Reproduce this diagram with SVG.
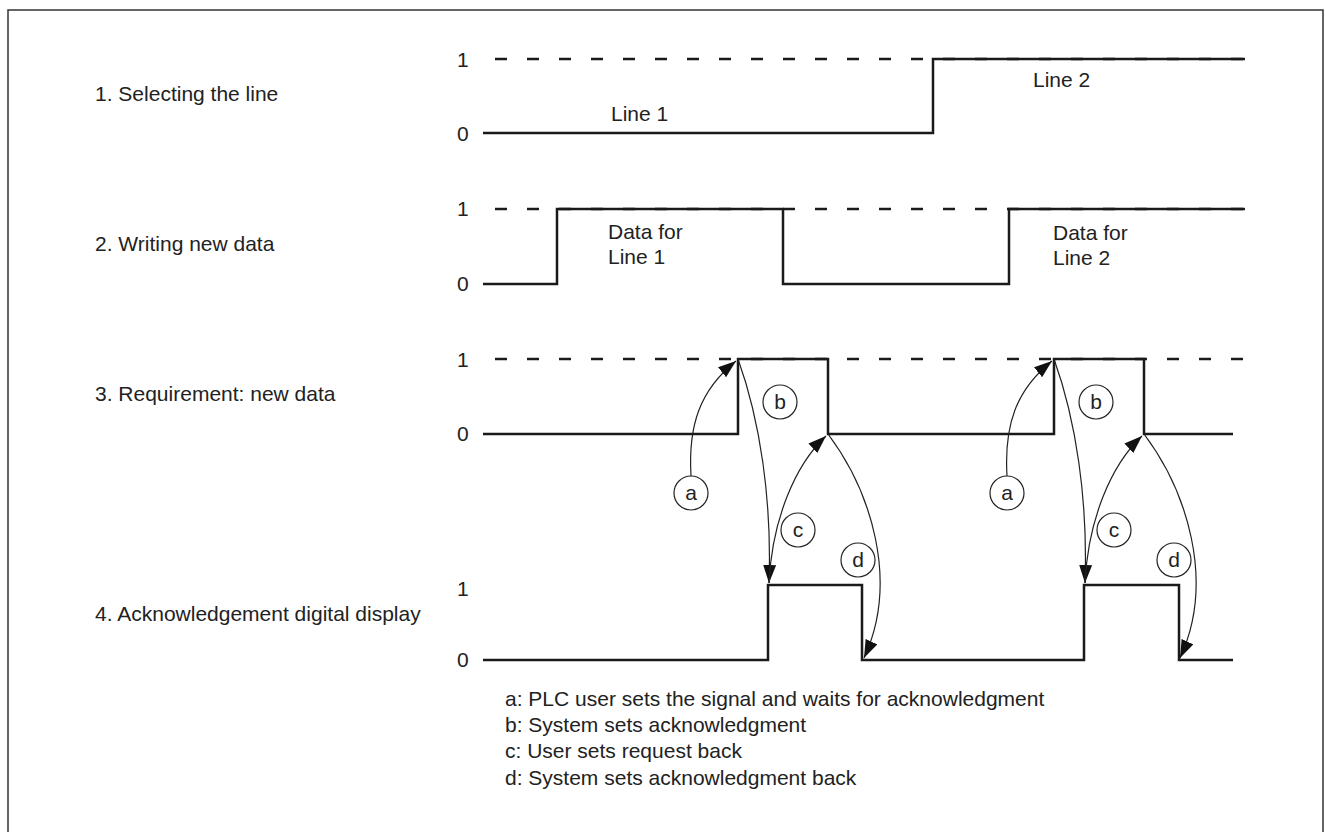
<svg xmlns="http://www.w3.org/2000/svg" width="1326" height="832" viewBox="0 0 1326 832">
  <style>
    text { font-family: "Liberation Sans", Arial, sans-serif; font-size: 21px; fill: #222; }
    .wave { fill: none; stroke: #1a1a1a; stroke-width: 2.5; stroke-linejoin: miter; }
    .dash { fill: none; stroke: #1a1a1a; stroke-width: 2.5; stroke-dasharray: 12 20; }
    .curve { fill: none; stroke: #222; stroke-width: 1.2; }
    .circ { fill: #fff; stroke: #222; stroke-width: 1.2; }
    .ctext { text-anchor: middle; }
  </style>
  <defs>
    <marker id="ah" markerUnits="userSpaceOnUse" markerWidth="19" markerHeight="14" refX="18" refY="6.5" orient="auto">
      <path d="M0,0 L18,6.5 L0,13 Z" fill="#111"/>
    </marker>
  </defs>
  <rect x="0" y="0" width="1326" height="832" fill="#fff"/>
  <rect x="8" y="10" width="1315" height="840" fill="none" stroke="#333" stroke-width="1.5"/>

  <g id="row-labels">
    <text x="95" y="101">1. Selecting the line</text>
    <text x="95" y="251">2. Writing new data</text>
    <text x="95" y="401">3. Requirement: new data</text>
    <text x="95" y="621">4. Acknowledgement digital display</text>
  </g>

  <g id="ticks">
    <text x="457" y="67">1</text>
    <text x="457" y="141">0</text>
    <text x="457" y="216">1</text>
    <text x="457" y="291">0</text>
    <text x="457" y="367">1</text>
    <text x="457" y="441">0</text>
    <text x="457" y="596">1</text>
    <text x="457" y="667">0</text>
  </g>

  <g id="signal-1">
    <line class="dash" x1="495" y1="59" x2="1245" y2="59"/>
    <path class="wave" d="M483,133 H933 V59 H1245"/>
    <text x="611" y="121">Line 1</text>
    <text x="1033" y="87">Line 2</text>
  </g>

  <g id="signal-2">
    <line class="dash" x1="495" y1="209" x2="1245" y2="209"/>
    <path class="wave" d="M483,284 H557 V209 H783 V284 H1009 V209 H1245"/>
    <text x="608" y="239">Data for</text>
    <text x="608" y="264">Line 1</text>
    <text x="1053" y="240">Data for</text>
    <text x="1053" y="265">Line 2</text>
  </g>

  <g id="signal-3">
    <line class="dash" x1="495" y1="359" x2="1245" y2="359"/>
    <path class="wave" d="M483,434 H738 V359 H828 V434 H1054 V359 H1144 V434 H1233"/>
  </g>

  <g id="signal-4">
    <path class="wave" d="M483,660 H768 V585 H862 V660 H1084 V585 H1179 V660 H1233"/>
  </g>

  <g id="connectors">
    <path class="curve" marker-end="url(#ah)" d="M691,476 C688,425 700,390 736,361"/>
    <path class="curve" marker-end="url(#ah)" d="M738,359 C760,420 772,500 769,583"/>
    <path class="curve" marker-end="url(#ah)" d="M769,583 C772,520 795,465 826,436"/>
    <path class="curve" marker-end="url(#ah)" d="M828,434 C870,490 900,580 864,658"/>

    <path class="curve" marker-end="url(#ah)" d="M1007,476 C1004,425 1016,390 1052,361"/>
    <path class="curve" marker-end="url(#ah)" d="M1054,359 C1076,420 1088,500 1085,583"/>
    <path class="curve" marker-end="url(#ah)" d="M1085,583 C1088,520 1111,465 1142,436"/>
    <path class="curve" marker-end="url(#ah)" d="M1144,434 C1186,490 1216,580 1180,658"/>
  </g>

  <g id="node-a1"><circle class="circ" cx="691" cy="493" r="17"/><text class="ctext" x="691" y="500">a</text></g>
  <g id="node-b1"><circle class="circ" cx="780" cy="402" r="17"/><text class="ctext" x="780" y="409">b</text></g>
  <g id="node-c1"><circle class="circ" cx="798" cy="530" r="17"/><text class="ctext" x="798" y="537">c</text></g>
  <g id="node-d1"><circle class="circ" cx="858" cy="560" r="17"/><text class="ctext" x="858" y="567">d</text></g>

  <g id="node-a2"><circle class="circ" cx="1007" cy="493" r="17"/><text class="ctext" x="1007" y="500">a</text></g>
  <g id="node-b2"><circle class="circ" cx="1096" cy="402" r="17"/><text class="ctext" x="1096" y="409">b</text></g>
  <g id="node-c2"><circle class="circ" cx="1114" cy="530" r="17"/><text class="ctext" x="1114" y="537">c</text></g>
  <g id="node-d2"><circle class="circ" cx="1174" cy="560" r="17"/><text class="ctext" x="1174" y="567">d</text></g>

  <g id="legend">
    <text x="505" y="706">a: PLC user sets the signal and waits for acknowledgment</text>
    <text x="505" y="732">b: System sets acknowledgment</text>
    <text x="505" y="758">c: User sets request back</text>
    <text x="505" y="785">d: System sets acknowledgment back</text>
  </g>
</svg>
